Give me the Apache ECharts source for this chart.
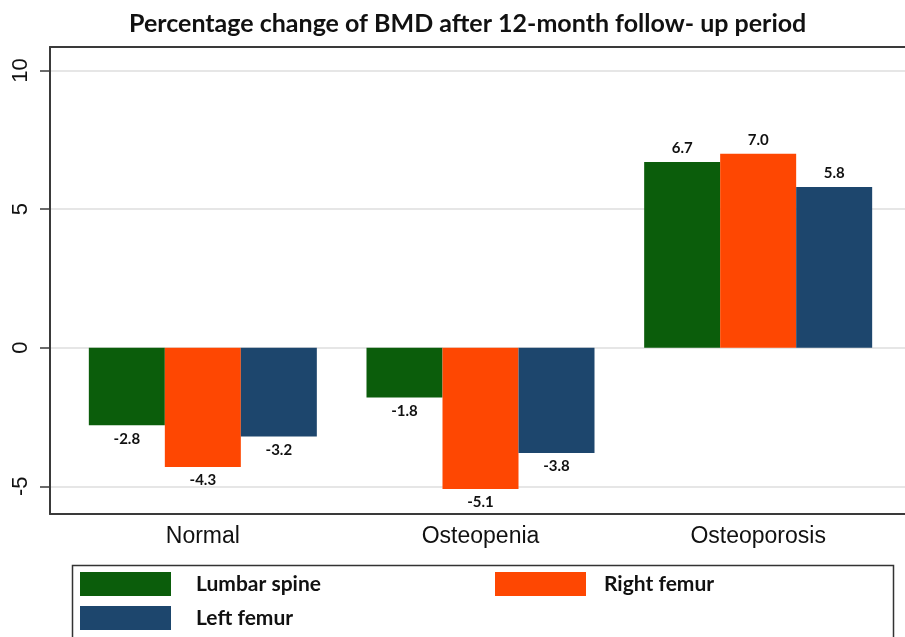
<!DOCTYPE html>
<html><head><meta charset="utf-8">
<script src="https://cdn.jsdelivr.net/npm/echarts@6/dist/echarts.min.js"></script>
<style>html,body{margin:0;padding:0;background:#fff}#c{width:905px;height:637px}</style>
</head><body><div id="c"></div>
<script>
const categories = ['Normal', 'Osteopenia', 'Osteoporosis'];
const lumbarSpine = [-2.8, -1.8, 6.7];
const rightFemur = [-4.3, -5.1, 7.0];
const leftFemur = [-3.2, -3.8, 5.8];
const yTicks = [-5, 0, 5, 10];
const seriesNames = ['Lumbar spine', 'Right femur', 'Left femur'];
const titleText = 'Percentage change of BMD after 12-month follow- up period';

const colors = ['#0b5d0b', '#fe4702', '#1d466d'];
const yMin = -6, yMax = 10.85;
const axisColor = '#3a3a3a';
const labelFont = 'Lato, "Open Sans", sans-serif';
const sansFont = '"Liberation Sans", Arial, sans-serif';

function mk(name, vals, color) {
  return {
    name: name, type: 'bar', xAxisIndex: 2, yAxisIndex: 1,
    barWidth: 76, barGap: '0%',
    itemStyle: { color: color },
    label: { show: true, fontFamily: labelFont, fontWeight: 'bold', fontSize: 15, color: '#111', distance: 6,
             formatter: p => Number(p.value).toFixed(1) },
    data: vals.map(v => ({ value: v, label: { position: v < 0 ? 'bottom' : 'top' } }))
  };
}

const chart = echarts.init(document.getElementById('c'));
chart.setOption({
  animation: false,
  backgroundColor: '#fff',
  title: { text: titleText, left: 124, top: 6,
    textStyle: { fontFamily: labelFont, fontWeight: 'bold', fontSize: 25, color: '#111' } },
  graphic: [
    { type: 'rect', left: 70, top: 563, shape: { width: 821, height: 100 },
      style: { fill: 'none', stroke: '#333', lineWidth: 1.5 }, silent: true }
  ],
  grid: [
    { left: 50, right: 0, top: 47, bottom: 123 },
    { left: 64, right: 8, top: 47, bottom: 123 }
  ],
  xAxis: [
    { gridIndex: 0, type: 'value', min: 0, max: 1, position: 'bottom',
      axisLine: { show: true, onZero: false, lineStyle: { color: axisColor, width: 2 } },
      axisTick: { show: false }, axisLabel: { show: false }, splitLine: { show: false } },
    { gridIndex: 0, type: 'value', min: 0, max: 1, position: 'top',
      axisLine: { show: true, onZero: false, lineStyle: { color: axisColor, width: 2 } },
      axisTick: { show: false }, axisLabel: { show: false }, splitLine: { show: false } },
    { gridIndex: 1, type: 'category', data: categories,
      axisLine: { show: false, onZero: false }, axisTick: { show: false },
      axisLabel: { margin: 11, fontFamily: sansFont, fontSize: 23, color: '#111' } }
  ],
  yAxis: [
    { gridIndex: 0, type: 'value', min: yMin, max: yMax,
      axisLine: { show: true, onZero: false, lineStyle: { color: axisColor, width: 2 } },
      axisTick: { show: true, length: 10, customValues: yTicks, lineStyle: { color: axisColor, width: 1.5 } },
      axisLabel: { customValues: yTicks, rotate: 90, margin: 18, fontFamily: sansFont, fontSize: 22, color: '#111' },
      splitLine: { show: true, lineStyle: { color: '#dedede', width: 1.5 } } },
    { gridIndex: 1, type: 'value', min: yMin, max: yMax, show: false, splitLine: { show: false } }
  ],
  legend: [
    { data: ['Lumbar spine', 'Left femur'], orient: 'vertical', left: 80, top: 572,
      itemWidth: 91, itemHeight: 24, itemGap: 10, icon: 'rect', selectedMode: false, padding: 0,
      textStyle: { fontFamily: labelFont, fontWeight: 'bold', fontSize: 21, color: '#111', padding: [0, 0, 0, 20] } },
    { data: ['Right femur'], orient: 'vertical', left: 495, top: 572,
      itemWidth: 91, itemHeight: 24, icon: 'rect', selectedMode: false, padding: 0,
      textStyle: { fontFamily: labelFont, fontWeight: 'bold', fontSize: 21, color: '#111', padding: [0, 0, 0, 13] } }
  ],
  series: [
    mk(seriesNames[0], lumbarSpine, colors[0]),
    mk(seriesNames[1], rightFemur, colors[1]),
    mk(seriesNames[2], leftFemur, colors[2])
  ]
});
</script></body></html>
